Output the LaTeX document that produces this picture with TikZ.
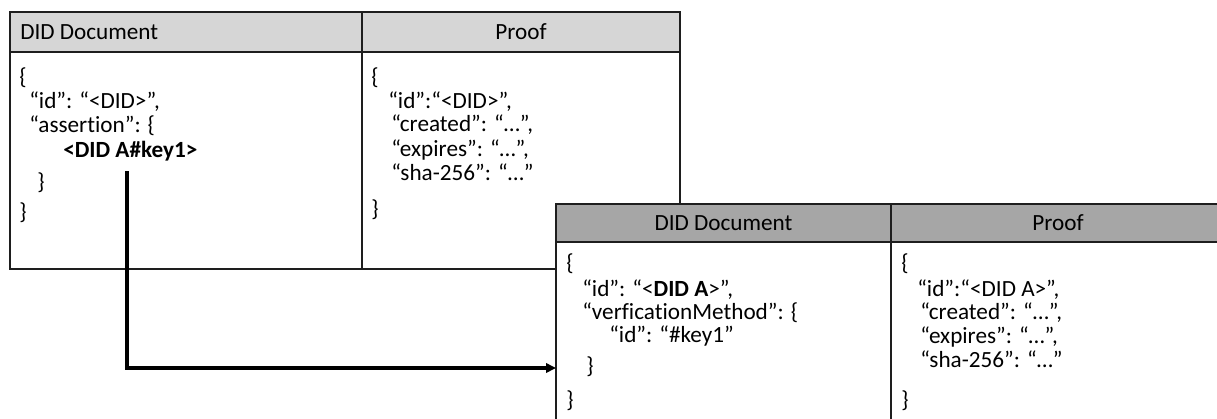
\documentclass[tikz,border=0pt]{standalone}
\usepackage{fontspec}
\setmainfont{Carlito}[Ligatures=NoCommon]
\usetikzlibrary{arrows.meta}
\definecolor{hdrA}{HTML}{D6D6D6}
\definecolor{hdrB}{HTML}{A6A6A6}
\definecolor{edge}{HTML}{1E1E1E}
\newcommand{\tsz}{\fontsize{17.4}{21}\selectfont}
\begin{document}
\begin{tikzpicture}[x=0.75pt,y=-0.75pt,
  cell/.style={draw=edge, line width=1.1pt, inner sep=0pt, outer sep=0pt, anchor=north west, fill=white},
  txt/.style={anchor=base west, inner sep=0pt, font=\tsz},
  hd/.style={inner sep=0pt, font=\tsz},
  link/.style={line width=2.5pt, -{Triangle[length=7.5pt,width=7pt]}}]
\useasboundingbox (0,0) rectangle (1217,418);
\clip (0,0) rectangle (1217,418);
\fill[white] (0,0) rectangle (1217,418);
% ---------- table 1 ----------
\node[cell, fill=hdrA, minimum width=264pt, minimum height=30pt] (t1h1) at (10,12) {};
\node[cell, fill=hdrA, minimum width=238.5pt, minimum height=30pt] (t1h2) at (362,12) {};
\node[cell, minimum width=264pt, minimum height=162.75pt] (t1b1) at (10,52) {};
\node[cell, minimum width=238.5pt, minimum height=162.75pt] (t1b2) at (362,52) {};
\node[hd, anchor=west] (t1h1t) at ([xshift=7.5pt]t1h1.west) {DID Document};
\node[hd] (t1h2t) at (t1h2.center) {Proof};
% body DID document 1
\node[txt] (a1) at (19,84) {\{};
\node[txt] (a2) at (29,108) {“id”: “<DID>”,};
\node[txt] (a3) at (29,132) {“assertion”: \{};
\node[txt] (key) at (63,157) {\bfseries <DID A\#key1>};
\node[txt] (a5) at (37,189) {\}};
\node[txt] (a6) at (19,219) {\}};
% body proof 1
\node[txt] (p1) at (371,84) {\{};
\node[txt] (p2) at (388,108) {“id”:“<DID>”,};
\node[txt] (p3) at (391,131) {“created”: “…”,};
\node[txt] (p4) at (391,156) {“expires”: “…”,};
\node[txt] (p5) at (391,180) {“sha-256”: “…”};
\node[txt] (p6) at (371,216) {\}};
% ---------- connector ----------
\coordinate (src) at (127,171);
\coordinate (bend) at (127,368);
% ---------- table 2 ----------
\node[cell, fill=hdrB, minimum width=251.25pt, minimum height=28.5pt] (t2h1) at (556,204) {};
\node[cell, fill=hdrB, minimum width=250.5pt, minimum height=28.5pt] (t2h2) at (891,204) {};
\node[cell, minimum width=251.25pt, minimum height=150pt] (t2b1) at (556,242) {};
\node[cell, minimum width=250.5pt, minimum height=150pt] (t2b2) at (891,242) {};
\node[hd] (t2h1t) at (t2h1.center) {DID Document};
\node[hd] (t2h2t) at (t2h2.center) {Proof};
% body DID document 2
\node[txt] (b1) at (566,270) {\{};
\node[txt] (b2) at (582,296) {“id”: “<\textbf{DID A}>”,};
\node[txt] (b3) at (582,319) {“verficationMethod”: \{};
\node[txt] (b4) at (609,342) {“id”: “\#key1”};
\node[txt] (b5) at (586,373) {\}};
\node[txt] (b6) at (566,407) {\}};
% body proof 2
\node[txt] (q1) at (901,270) {\{};
\node[txt] (q2) at (917,296) {“id”:“<DID A>”,};
\node[txt] (q3) at (920,319) {“created”: “…”,};
\node[txt] (q4) at (920,343) {“expires”: “…”,};
\node[txt] (q5) at (920,367) {“sha-256”: “…”};
\node[txt] (q6) at (901,407) {\}};
% arrow from key reference to DID document A
\draw[link] (src) -- (bend) -- (bend -| t2b1.west);
\end{tikzpicture}
\end{document}
